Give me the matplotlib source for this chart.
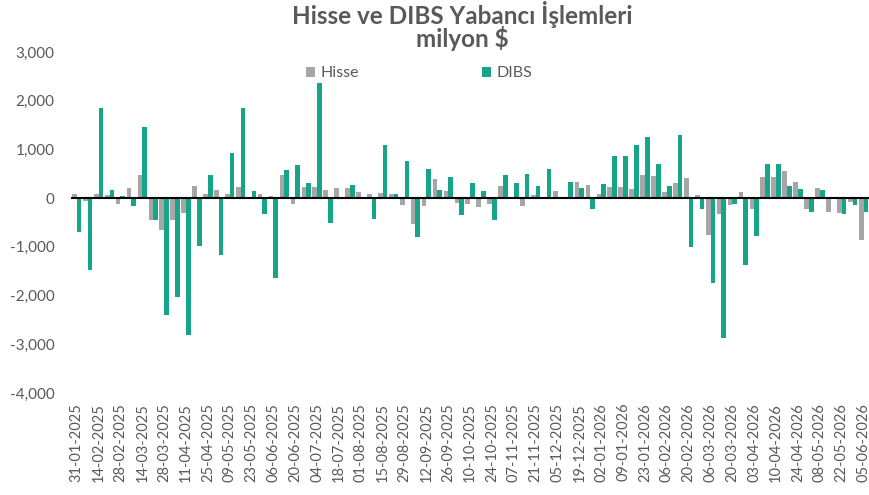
import numpy as np
import matplotlib.pyplot as plt
from matplotlib.ticker import FuncFormatter

plt.rcParams['font.family'] = ['Lato', 'DejaVu Sans']

# every second week is labelled on the x axis
tick_labels = ['31-01-2025', '14-02-2025', '28-02-2025', '14-03-2025', '28-03-2025',
               '11-04-2025', '25-04-2025', '09-05-2025', '23-05-2025', '06-06-2025',
               '20-06-2025', '04-07-2025', '18-07-2025', '01-08-2025', '15-08-2025',
               '29-08-2025', '12-09-2025', '26-09-2025', '10-10-2025', '24-10-2025',
               '07-11-2025', '21-11-2025', '05-12-2025', '19-12-2025', '02-01-2026',
               '09-01-2026', '23-01-2026', '06-02-2026', '20-02-2026', '06-03-2026',
               '20-03-2026', '03-04-2026', '10-04-2026', '24-04-2026', '08-05-2026',
               '22-05-2026', '05-06-2026']

hisse = [80, -50, 95, 70, -110, 205, 480, -440, -650, -440,
         -300, 250, 80, 170, 95, 235, 0, 85, 50, 465,
         -110, 230, 220, 165, 205, 200, 130, 80, 115, 80,
         -150, -525, -165, 400, 150, -90, -110, -180, -130, 240,
         30, -155, 70, 0, 150, 30, 340, 265, 95, 230,
         230, 185, 480, 450, 125, 310, 410, 70, -750, -320,
         -145, 130, -220, 435, 435, 565, 330, -230, 205, -285,
         -310, -85, -855]

dibs = [-690, -1480, 1840, 165, 50, -165, 1455, -440, -2400, -2030,
        -2810, -980, 465, -1160, 930, 1860, 150, -335, -1645, 570,
        680, 310, 2370, -500, 20, 275, 0, -430, 1090, 95,
        760, -790, 590, 165, 440, -355, 310, 150, -440, 480,
        310, 500, 240, 590, 0, 325, 205, -230, 290, 870,
        870, 1090, 1250, 700, 255, 1300, -1000, -220, -1735, -2880,
        -115, -1365, -785, 705, 705, 240, 185, -285, 165, 0,
        -330, -140, -285]

gray = '#A6A6A6'
green = '#17A589'
txt = '#595959'

x = np.arange(len(hisse))
w = 0.43

fig = plt.figure(figsize=(8.69, 4.95), dpi=100)
ax = fig.add_axes([0.082, 0.206, 0.918, 0.689])

ax.bar(x - w / 2, hisse, width=w, color=gray, label='Hisse')
ax.bar(x + w / 2, dibs, width=w, color=green, label='DIBS')
ax.axhline(0, color='black', lw=1.5)

ax.set_xlim(-0.5, len(hisse) - 0.5)
ax.set_ylim(-4000, 3000)
ax.set_yticks(range(-4000, 3001, 1000))
ax.yaxis.set_major_formatter(FuncFormatter(lambda v, p: f'{v:,.0f}'))
ax.set_xticks(x[::2])
ax.set_xticklabels(tick_labels, rotation=90)

for s in ax.spines.values():
    s.set_visible(False)
ax.tick_params(axis='y', length=0, colors=txt, labelsize=11, pad=12)
ax.tick_params(axis='x', length=0, colors=txt, labelsize=10.5, pad=7)

fig.text(0.532, 0.970, 'Hisse ve DIBS Yabancı İşlemleri', ha='center', va='center',
         fontsize=17.5, fontweight='bold', color=txt)
fig.text(0.532, 0.922, 'milyon $', ha='center', va='center',
         fontsize=17.5, fontweight='bold', color=txt)

ax.legend(loc='upper left', bbox_to_anchor=(0.276, 1.0), ncol=2, frameon=False,
          fontsize=11.5, handlelength=0.6, handleheight=0.6, handletextpad=0.3,
          columnspacing=7.7, labelcolor=txt)

fig.savefig('out.png', dpi=100)
